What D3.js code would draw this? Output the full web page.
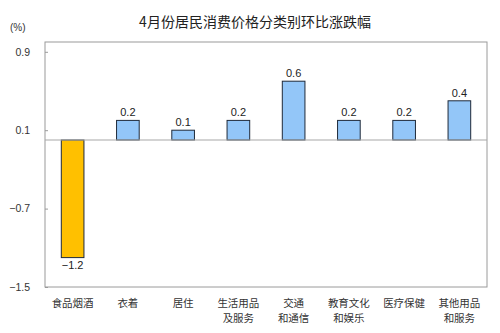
<!DOCTYPE html>
<html>
<head>
<meta charset="utf-8">
<script src="https://cdn.jsdelivr.net/npm/d3@7/dist/d3.min.js"></script>
<style>
  html, body { margin: 0; padding: 0; background: #fff; }
  svg { display: block; }
</style>
</head>
<body>
<svg id="chart" width="500" height="333"></svg>
<script>
// Category names (two-line labels split by "\n") and month-on-month change (%)
const categories = ["食品烟酒", "衣着", "居住", "生活用品\n及服务", "交通\n和通信", "教育文化\n和娱乐", "医疗保健", "其他用品\n和服务"];
const values = [-1.2, 0.2, 0.1, 0.2, 0.6, 0.2, 0.2, 0.4];
const yTicks = [-1.5, -0.7, 0.1, 0.9];
const title = "4月份居民消费价格分类别环比涨跌幅";
const unit = "(%)";

const svg = d3.select("#chart");
const plot = { left: 45, right: 487, top: 42, bottom: 287 };

const x = d3.scaleBand()
  .domain(categories)
  .range([plot.left, plot.right])
  .paddingInner(0.59)
  .paddingOuter(0.295);

const y = d3.scaleLinear()
  .domain([-1.5, 1.0])
  .range([plot.bottom, plot.top]);

const cjk = "'Noto Sans CJK SC', sans-serif";
const latin = "Arial, 'Liberation Sans', sans-serif";

// Title
svg.append("text")
  .attr("x", 255).attr("y", 27)
  .attr("text-anchor", "middle")
  .attr("font-family", cjk)
  .attr("font-size", 14)
  .attr("fill", "#222")
  .text(title);

// Unit
svg.append("text")
  .attr("x", 10).attr("y", 31)
  .attr("font-family", latin)
  .attr("font-size", 10)
  .attr("fill", "#333")
  .text(unit);

// Plot frame
svg.append("rect")
  .attr("x", plot.left).attr("y", plot.top)
  .attr("width", plot.right - plot.left)
  .attr("height", plot.bottom - plot.top)
  .attr("fill", "none")
  .attr("stroke", "#9a9a9a")
  .attr("stroke-width", 1);

// Y axis
const yAxis = d3.axisLeft(y)
  .tickValues(yTicks)
  .tickSize(-3)
  .tickPadding(15)
  .tickFormat(d3.format(".1f"));

const gy = svg.append("g")
  .attr("transform", `translate(${plot.left},0)`)
  .call(yAxis);
gy.select(".domain").remove();
gy.selectAll(".tick line").attr("stroke", "#9a9a9a");
gy.selectAll(".tick text")
  .attr("font-family", latin)
  .attr("font-size", 10.5)
  .attr("fill", "#333");

// Bars
svg.append("g").selectAll("rect")
  .data(values)
  .join("rect")
  .attr("x", (d, i) => x(categories[i]))
  .attr("width", x.bandwidth())
  .attr("y", d => y(Math.max(0, d)))
  .attr("height", d => Math.abs(y(d) - y(0)))
  .attr("fill", d => d < 0 ? "#ffc000" : "#93c6f8")
  .attr("stroke", "#1f2a3a")
  .attr("stroke-width", 1);

// Zero baseline
svg.append("line")
  .attr("x1", plot.left).attr("x2", plot.right)
  .attr("y1", y(0)).attr("y2", y(0))
  .attr("stroke", "#a8a8a8")
  .attr("stroke-width", 1.2);

// Value labels
svg.append("g").selectAll("text")
  .data(values)
  .join("text")
  .attr("x", (d, i) => x(categories[i]) + x.bandwidth() / 2)
  .attr("y", d => d < 0 ? y(d) + 11 : y(d) - 4)
  .attr("text-anchor", "middle")
  .attr("font-family", latin)
  .attr("font-size", 11)
  .attr("fill", "#222")
  .text(d => d3.format(".1f")(d));

// Category labels
const cat = svg.append("g").selectAll("text")
  .data(categories)
  .join("text")
  .attr("x", d => x(d) + x.bandwidth() / 2)
  .attr("y", 307)
  .attr("text-anchor", "middle")
  .attr("font-family", cjk)
  .attr("font-size", 10.5)
  .attr("fill", "#333");

cat.each(function (d) {
  const t = d3.select(this);
  const cx = x(d) + x.bandwidth() / 2;
  d.split("\n").forEach((line, k) => {
    t.append("tspan")
      .attr("x", cx)
      .attr("dy", k === 0 ? 0 : 15)
      .text(line);
  });
});
</script>
</body>
</html>
